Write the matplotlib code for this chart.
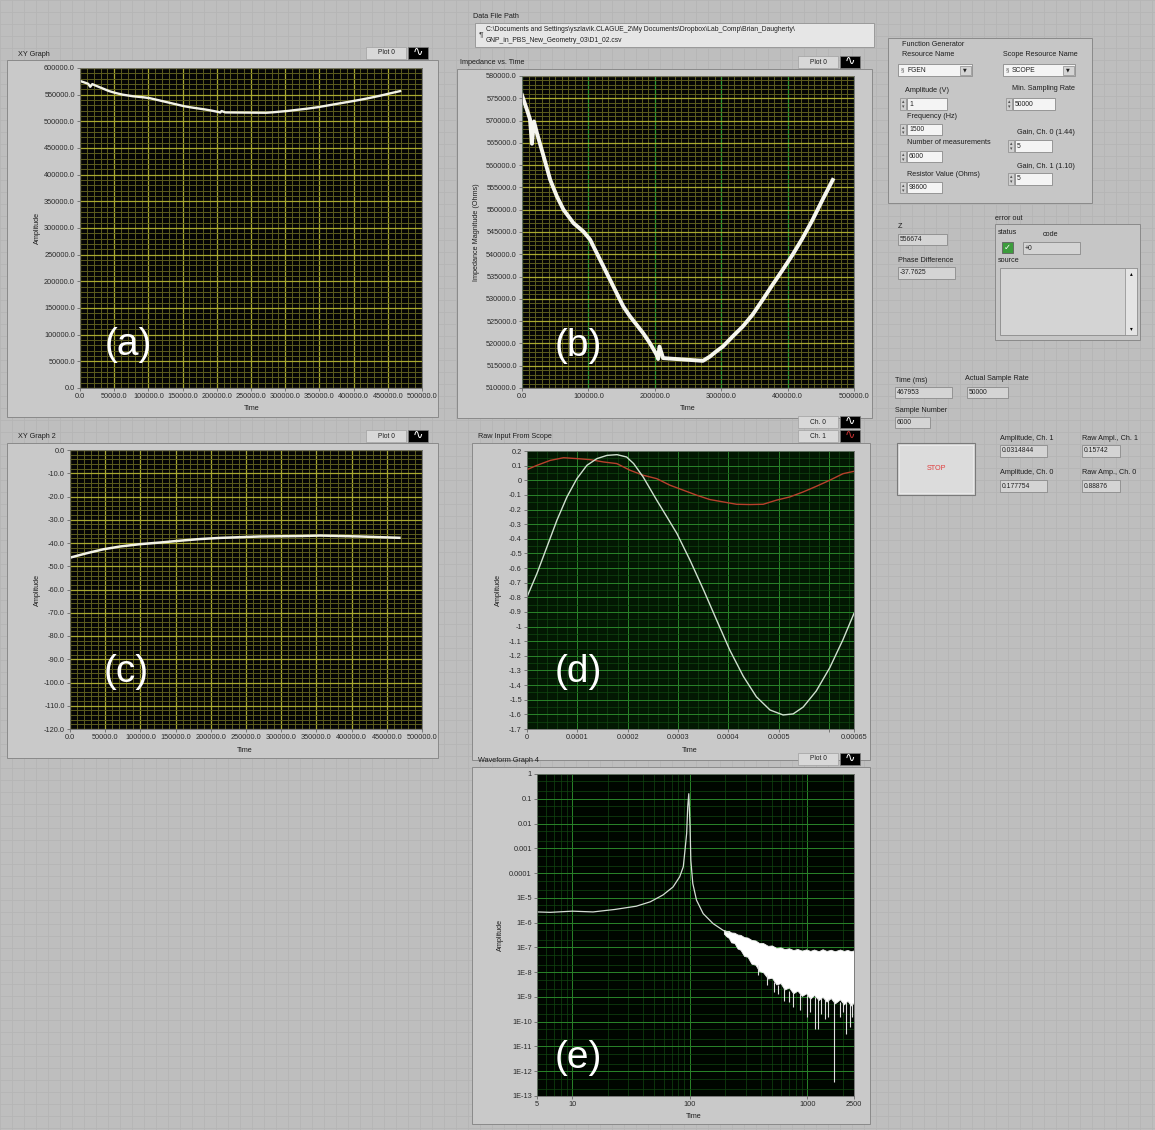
import numpy as np
import matplotlib
matplotlib.use("Agg")
import matplotlib.pyplot as plt
from matplotlib.patches import Rectangle
from matplotlib.ticker import (MultipleLocator, AutoMinorLocator, FixedLocator,
                               FixedFormatter, FuncFormatter, LogLocator, NullFormatter)

plt.rcParams["font.family"] = ["Liberation Sans", "DejaVu Sans"]

# ---- data ----
# impedance magnitude vs time (graphs a and b)
time_z = [0, 7500, 12000, 15000, 18000, 22500, 32500, 42500, 52500, 62500, 77500,
          92500, 102500, 112500, 122500, 132500, 142500, 152500, 162500, 172500,
          182500, 192500, 202500, 205000, 207000, 212500, 232500, 252500, 272500,
          282500, 292500, 302500, 317500, 332500, 347500, 362500, 377500, 392500,
          407500, 422500, 437500, 452500, 467953]
imp_z = [575700, 572400, 570300, 564800, 569800, 567200, 562000, 556700, 553000,
         550000, 547000, 545100, 543300, 540300, 537300, 534300, 531300, 528300,
         526100, 524200, 522300, 520100, 517500, 516500, 519300, 516700, 516500,
         516300, 516100, 517000, 518200, 519300, 521600, 523800, 526500, 529800,
         533200, 536500, 539900, 543600, 547700, 552200, 556674]

# phase difference vs time (graph c)
time_p = [0, 23700, 47400, 71100, 99500, 127900, 156400, 184800, 213300, 241700,
          270100, 298600, 327000, 355500, 383900, 412300, 440800, 467953]
phase_p = [-46.3, -44.4, -42.7, -41.5, -40.5, -39.8, -39.0, -38.3, -37.8, -37.5,
           -37.2, -37.1, -37.0, -36.8, -37.0, -37.2, -37.5, -37.76]

# raw scope input (graph d)
t_ch0 = [0, 0.0000198, 0.0000397, 0.0000595, 0.0000794, 0.0000992, 0.000119,
         0.000139, 0.000159, 0.000179, 0.000198, 0.000212, 0.000231, 0.000258,
         0.000278, 0.000298, 0.000324, 0.000351, 0.000377, 0.000403, 0.000430,
         0.000456, 0.000483, 0.000509, 0.000529, 0.000549, 0.000575, 0.000602,
         0.000628, 0.00065]
ch0 = [-0.797, -0.637, -0.455, -0.273, -0.114, 0.011, 0.102, 0.148, 0.170, 0.175,
       0.159, 0.114, 0.022, -0.137, -0.25, -0.364, -0.546, -0.75, -0.956, -1.16,
       -1.34, -1.48, -1.57, -1.604, -1.597, -1.55, -1.44, -1.28, -1.09, -0.91]
t_ch1 = [0, 0.0000198, 0.0000463, 0.0000727, 0.0000992, 0.0001256, 0.0001521,
         0.0001785, 0.000205, 0.0002314, 0.0002579, 0.0002843, 0.0003108,
         0.0003372, 0.0003637, 0.0003901, 0.0004166, 0.000443, 0.0004695,
         0.0004959, 0.0005224, 0.0005488, 0.0005753, 0.0006017, 0.0006282, 0.00065]
ch1 = [0.073, 0.102, 0.136, 0.154, 0.148, 0.141, 0.125, 0.114, 0.068, 0.034, 0.011,
       -0.034, -0.068, -0.102, -0.132, -0.148, -0.164, -0.166, -0.164, -0.136,
       -0.114, -0.080, -0.041, 0.0, 0.045, 0.061]

# spectrum (graph e)
freq_s = [5, 6.5, 10, 15, 23, 35, 46, 59, 72, 82, 88, 91, 94, 96, 98, 100.5, 102,
          106, 114, 130, 158, 192, 215]
amp_s = [2.7e-6, 2.6e-6, 2.9e-6, 2.7e-6, 3.4e-6, 4.6e-6, 6.9e-6, 1.3e-5, 2.75e-5,
         7.1e-5, 1.8e-4, 8.5e-4, 4.0e-3, 4.8e-2, 0.16, 7.4e-3, 3.3e-4, 3.8e-5,
         8.1e-6, 2.3e-6, 9.1e-7, 4.9e-7, 3.9e-7]
freq_band = [195, 205, 215, 225, 240, 255, 270, 290, 310, 335, 362, 390, 420, 463,
             500, 545, 593, 640, 700, 760, 825, 900, 980, 1060, 1144, 1250, 1350,
             1460, 1587, 1720, 1900, 2050, 2200, 2350, 2500]
band_hi = [5.0e-7, 4.6e-7, 4.6e-7, 4.0e-7, 3.9e-7, 3.3e-7, 3.2e-7, 2.6e-7, 2.5e-7,
           2.0e-7, 1.9e-7, 1.5e-7, 1.5e-7, 1.15e-7, 1.2e-7, 9.5e-8, 1.0e-7, 8.5e-8,
           9.2e-8, 7.8e-8, 8.6e-8, 7.4e-8, 8.3e-8, 7.2e-8, 8.2e-8, 7.0e-8, 8.4e-8,
           7.2e-8, 8.0e-8, 7.0e-8, 8.2e-8, 7.2e-8, 7.9e-8, 7.0e-8, 7.6e-8]
band_lo = [3.6e-7, 2.8e-7, 2.4e-7, 1.6e-7, 1.5e-7, 9e-8, 8e-8, 4.5e-8, 4.2e-8,
           2.2e-8, 2.0e-8, 1.1e-8, 1.0e-8, 5.5e-9, 6.0e-9, 3.2e-9, 3.6e-9, 2.0e-9,
           2.4e-9, 1.4e-9, 1.8e-9, 1.1e-9, 1.4e-9, 8.5e-10, 1.2e-9, 7.5e-10, 1.0e-9,
           6.5e-10, 9.0e-10, 5.5e-10, 8.0e-10, 5.0e-10, 7.0e-10, 4.5e-10, 6.0e-10]
spike_f = [380, 450, 520, 560, 640, 700, 760, 860, 986, 1060, 1160, 1238, 1300, 1411,
           1500, 1705, 1900, 2000, 2157, 2300, 2400]
spike_lo = [8e-9, 3e-9, 1.6e-9, 1.26e-9, 7e-10, 6.3e-10, 4e-10, 3e-10, 1.55e-10,
            2.5e-10, 5.0e-11, 5.2e-11, 2e-10, 1.26e-10, 1.5e-10, 3.6e-13, 1.6e-10,
            2.5e-10, 3.2e-11, 6.3e-11, 1.5e-10]
spike_hi = [2e-8, 8e-9, 4e-9, 3e-9, 2.2e-9, 1.8e-9, 1.6e-9, 1.3e-9, 1.2e-9, 1.0e-9,
            1.0e-9, 9e-10, 9e-10, 8e-10, 8e-10, 7e-10, 6e-10, 6e-10, 6e-10, 5.5e-10,
            5.5e-10]

# ---- panel ----
W, H = 1155, 1130
fig = plt.figure(figsize=(W / 100, H / 100), dpi=100)
fig.patch.set_facecolor("#bebebe")

bg = fig.add_axes([0, 0, 1, 1])
bg.set_xlim(0, W)
bg.set_ylim(H, 0)
bg.axis("off")
bg.vlines(np.arange(0, W, 12), 0, H, color="#b5b5b5", lw=0.6, zorder=0)
bg.hlines(np.arange(0, H, 12), 0, W, color="#b5b5b5", lw=0.6, zorder=0)


def rect(x0, y0, x1, y1, fc, ec="#8a8a8a", lw=0.7, z=1):
    bg.add_patch(Rectangle((x0, y0), x1 - x0, y1 - y0, fc=fc, ec=ec, lw=lw, zorder=z))


def lab(x, y, s, size=5.2, **kw):
    bg.text(x, y, s, fontsize=size, va="center", ha=kw.pop("ha", "left"),
            color=kw.pop("color", "#1e1e1e"), zorder=5, **kw)


def legend(x0, y0, name, wave="white"):
    rect(x0, y0, x0 + 40, y0 + 12, "#d8d8d8", "#a0a0a0", 0.5, 2)
    lab(x0 + 20, y0 + 6, name, 4.8, ha="center")
    rect(x0 + 42, y0, x0 + 62, y0 + 12, "#000000", "#808080", 0.5, 2)
    bg.text(x0 + 52, y0 + 5.5, "\u223f", fontsize=9, color=wave, ha="center",
            va="center", family="DejaVu Sans", zorder=5)


def to_fig(x0, y0, x1, y1):
    return [x0 / W, 1 - y1 / H, (x1 - x0) / W, (y1 - y0) / H]


def style(ax, face):
    ax.set_facecolor(face)
    for s in ax.spines.values():
        s.set_color("#6a6a6a")
        s.set_linewidth(0.6)
    ax.tick_params(which="both", direction="out", colors="#555555", labelcolor="#2a2a2a",
                   labelsize=5.3, width=0.5, pad=1.2)
    ax.tick_params(which="major", length=2.5)
    ax.tick_params(which="minor", length=0)
    ax.set_axisbelow(True)


fmt1 = FuncFormatter(lambda v, p: f"{v:.1f}")
YEL, YEL_MIN = "#a8a830", "#5c5c1e"
GRN, GRN_MIN = "#2a842a", "#114611"

# graph frames and titles
rect(7, 60, 438, 417, "#c9c9c9")
lab(18, 54, "XY Graph")
legend(366, 47, "Plot 0")

lab(473, 17, "Data File Path")
rect(475, 23, 874, 47, "#e6e6e6", "#9a9a9a")
bg.text(479, 35, "\u00b6", fontsize=6, va="center", color="#404040", zorder=5)
lab(486, 29.5, r"C:\Documents and Settings\yszlavik.CLAGUE_2\My Documents\Dropbox\Lab_Comp\Brian_Daugherty\ ", 4.9)
lab(486, 40, r"GNP_in_PBS_New_Geometry_03\D1_02.csv", 4.9)

rect(457, 69, 872, 418, "#c9c9c9")
lab(460, 63, "Impedance vs. Time")
legend(798, 56, "Plot 0")

rect(7, 443, 438, 758, "#c9c9c9")
lab(18, 437, "XY Graph 2")
legend(366, 430, "Plot 0")

rect(472, 443, 870, 760, "#c9c9c9")
lab(478, 437, "Raw Input From Scope")
legend(798, 416, "Ch. 0")
legend(798, 430, "Ch. 1", "#c03030")

rect(472, 767, 870, 1124, "#c9c9c9")
lab(478, 761, "Waveform Graph 4")
legend(798, 753, "Plot 0")

# (a) XY Graph
ax = fig.add_axes(to_fig(80, 68, 422, 388))
style(ax, "#050505")
ax.plot(time_z, imp_z, color="#f2f2e6", lw=1.7)
ax.set_xlim(0, 500000)
ax.set_ylim(0, 600000)
ax.xaxis.set_major_locator(MultipleLocator(50000))
ax.yaxis.set_major_locator(MultipleLocator(50000))
ax.xaxis.set_minor_locator(AutoMinorLocator(5))
ax.yaxis.set_minor_locator(AutoMinorLocator(5))
ax.xaxis.set_major_formatter(fmt1)
ax.yaxis.set_major_formatter(fmt1)
ax.grid(which="minor", color=YEL_MIN, lw=0.7)
ax.grid(which="major", color=YEL, lw=0.9)
lab(37, 228, "Amplitude", rotation=90, ha="center")
lab(252, 409, "Time", ha="center")

# (b) Impedance vs. Time
ax = fig.add_axes(to_fig(522, 76, 854, 388))
style(ax, "#050505")
ax.plot(time_z, imp_z, color="#f6f6ee", lw=2.8, solid_joinstyle="round")
ax.set_xlim(0, 500000)
ax.set_ylim(510000, 580000)
ax.xaxis.set_major_locator(MultipleLocator(100000))
ax.yaxis.set_major_locator(MultipleLocator(5000))
ax.xaxis.set_minor_locator(AutoMinorLocator(10))
ax.yaxis.set_minor_locator(AutoMinorLocator(5))
ax.xaxis.set_major_formatter(fmt1)
ax.yaxis.set_major_formatter(fmt1)
ax.grid(which="minor", color=YEL_MIN, lw=0.7)
ax.xaxis.grid(True, which="major", color="#2e9a2e", lw=0.9)
ax.yaxis.grid(True, which="major", color=YEL, lw=0.9)
lab(477, 232, "Impedance Magnitude (Ohms)", rotation=90, ha="center")
lab(688, 409, "Time", ha="center")

# (c) XY Graph 2
ax = fig.add_axes(to_fig(70, 450, 422, 729))
style(ax, "#050505")
ax.plot(time_p, phase_p, color="#f2f2e6", lw=1.8)
ax.set_xlim(0, 500000)
ax.set_ylim(-120, 0)
ax.xaxis.set_major_locator(MultipleLocator(50000))
ax.yaxis.set_major_locator(MultipleLocator(10))
ax.xaxis.set_minor_locator(AutoMinorLocator(5))
ax.yaxis.set_minor_locator(AutoMinorLocator(5))
ax.xaxis.set_major_formatter(fmt1)
ax.yaxis.set_major_formatter(fmt1)
ax.grid(which="minor", color=YEL_MIN, lw=0.7)
ax.grid(which="major", color=YEL, lw=0.9)
lab(37, 590, "Amplitude", rotation=90, ha="center")
lab(245, 750, "Time", ha="center")

# (d) Raw Input From Scope
ax = fig.add_axes(to_fig(527, 451, 854, 729))
style(ax, "#031803")
ax.plot(t_ch1, ch1, color="#b8402c", lw=1.0)
ax.plot(t_ch0, ch0, color="#cfe0cf", lw=1.0)
ax.set_xlim(0, 0.00065)
ax.set_ylim(-1.7, 0.2)
xt_d = [0, 0.0001, 0.0002, 0.0003, 0.0004, 0.0005, 0.0006, 0.00065]
ax.xaxis.set_major_locator(FixedLocator(xt_d))
ax.xaxis.set_major_formatter(FixedFormatter(["0", "0.0001", "0.0002", "0.0003",
                                             "0.0004", "0.0005", "", "0.00065"]))
ax.yaxis.set_major_locator(MultipleLocator(0.1))
ax.yaxis.set_major_formatter(FuncFormatter(lambda v, p: f"{round(v, 2) + 0.0:g}"))
ax.xaxis.set_minor_locator(MultipleLocator(0.00002))
ax.yaxis.set_minor_locator(AutoMinorLocator(2))
ax.grid(which="minor", color=GRN_MIN, lw=0.5)
ax.grid(which="major", color=GRN, lw=0.7)
lab(498, 590, "Amplitude", rotation=90, ha="center")
lab(690, 750, "Time", ha="center")

# (e) Waveform Graph 4
ax = fig.add_axes(to_fig(537, 774, 854, 1096))
style(ax, "#000600")
ax.set_xscale("log")
ax.set_yscale("log")
ax.fill_between(freq_band, band_lo, band_hi, color="white", lw=0.6, ec="#f0f0f0")
ax.vlines(spike_f, spike_lo, spike_hi, color="#e0e0e0", lw=0.8)
ax.plot(freq_s, amp_s, color="#d4ddd4", lw=0.9)
ax.set_xlim(5, 2500)
ax.set_ylim(1e-13, 1)
ax.xaxis.set_major_locator(FixedLocator([5, 10, 100, 1000, 2500]))
ax.xaxis.set_major_formatter(FixedFormatter(["5", "10", "100", "1000", "2500"]))
ax.xaxis.set_minor_locator(LogLocator(base=10, subs=np.arange(2, 10), numticks=20))
ax.xaxis.set_minor_formatter(NullFormatter())
yt_e = [10.0 ** k for k in range(-13, 1)]
ax.yaxis.set_major_locator(FixedLocator(yt_e))
ax.yaxis.set_major_formatter(FixedFormatter(
    [f"1E-{-k}" for k in range(-13, -4)] + ["0.0001", "0.001", "0.01", "0.1", "1"]))
ax.yaxis.set_minor_locator(LogLocator(base=10, subs=(2, 5), numticks=40))
ax.yaxis.set_minor_formatter(NullFormatter())
ax.grid(which="minor", color=GRN_MIN, lw=0.5)
ax.grid(which="major", color=GRN, lw=0.7)
lab(500, 935, "Amplitude", rotation=90, ha="center")
lab(694, 1117, "Time", ha="center")

# big panel letters on a transparent layer above the graphs
top = fig.add_axes([0, 0, 1, 1])
top.set_xlim(0, W)
top.set_ylim(H, 0)
top.axis("off")
top.patch.set_alpha(0)
for x, y, s in [(128, 345, "(a)"), (578, 346, "(b)"), (126, 672, "(c)"),
                (578, 672, "(d)"), (578, 1058, "(e)")]:
    top.text(x, y, s, fontsize=28, color="white", ha="center", va="center")

# ---- right hand controls ----
def numeric(x0, y0, x1, y1, s, control=True):
    if control:
        rect(x0 - 7, y0, x0 - 1, y1, "#d0d0d0", "#8a8a8a", 0.5, 2)
        bg.text(x0 - 4, y0 + (y1 - y0) * 0.3, "\u25b4", fontsize=3.5, ha="center",
                va="center", color="#505050", family="DejaVu Sans", zorder=5)
        bg.text(x0 - 4, y0 + (y1 - y0) * 0.75, "\u25be", fontsize=3.5, ha="center",
                va="center", color="#505050", family="DejaVu Sans", zorder=5)
    rect(x0, y0, x1, y1, "#f4f4f4" if control else "#d4d4d4", "#8a8a8a", 0.6, 2)
    bg.text(x0 + 2, (y0 + y1) / 2, s, fontsize=4.9, va="center", ha="left",
            color="#202020", zorder=5)


def ring(x0, y0, x1, y1, s):
    rect(x0, y0, x1, y1, "#f4f4f4", "#8a8a8a", 0.6, 2)
    bg.text(x0 + 3, (y0 + y1) / 2, "\u00a7", fontsize=4.5, va="center", color="#505050", zorder=5)
    lab(x0 + 9, (y0 + y1) / 2, s, 4.9)
    rect(x1 - 12, y0 + 1.5, x1 - 1.5, y1 - 1.5, "#d4d4d4", "#8a8a8a", 0.5, 3)
    bg.text(x1 - 6.8, (y0 + y1) / 2, "\u25bc", fontsize=3.5, ha="center", va="center",
            family="DejaVu Sans", color="#202020", zorder=5)


rect(888, 38, 1092, 203, "#c6c6c6", "#8a8a8a")
lab(902, 45, "Function Generator")
lab(902, 54, "Resource Name")
lab(1003, 54, "Scope Resource Name")
ring(898, 64, 972, 76, "FGEN")
ring(1003, 64, 1075, 76, "SCOPE")
lab(905, 90, "Amplitude (V)")
numeric(907, 98, 947, 110, "1")
lab(907, 117, "Frequency (Hz)")
numeric(907, 124, 942, 135, "1500")
lab(907, 143, "Number of measurements")
numeric(907, 151, 942, 162, "6000")
lab(907, 175, "Resistor Value (Ohms)")
numeric(907, 182, 942, 193, "98600")
lab(1012, 88, "Min. Sampling Rate")
numeric(1013, 98, 1055, 110, "50000")
lab(1017, 132, "Gain, Ch. 0 (1.44)")
numeric(1015, 140, 1052, 152, "5")
lab(1017, 167, "Gain, Ch. 1 (1.10)")
numeric(1015, 173, 1052, 185, "5")

lab(898, 227, "Z")
numeric(898, 234, 947, 245, "556674", control=False)
lab(898, 260, "Phase Difference")
numeric(898, 267, 955, 279, "-37.7625", control=False)

lab(995, 218, "error out")
rect(995, 224, 1140, 340, "#c6c6c6", "#8a8a8a")
lab(998, 232, "status")
lab(1043, 235, "code")
rect(1002, 242, 1013, 253, "#3c9c3c", "#606060", 0.6, 2)
bg.text(1007.5, 247.5, "\u2713", fontsize=6, color="white", ha="center", va="center",
        family="DejaVu Sans", zorder=5)
numeric(1023, 242, 1080, 254, "+0", control=False)
lab(998, 260, "source")
rect(1000, 268, 1137, 335, "#d4d4d4", "#8a8a8a", 0.6, 2)
rect(1125, 268, 1137, 335, "#e4e4e4", "#8a8a8a", 0.5, 3)
bg.text(1131, 274, "\u25b4", fontsize=4, ha="center", va="center", family="DejaVu Sans", zorder=5)
bg.text(1131, 329, "\u25be", fontsize=4, ha="center", va="center", family="DejaVu Sans", zorder=5)

lab(895, 380, "Time (ms)")
numeric(895, 387, 952, 398, "467953", control=False)
lab(965, 379, "Actual Sample Rate")
numeric(967, 387, 1008, 398, "50000", control=False)
lab(895, 410, "Sample Number")
numeric(895, 417, 930, 428, "6000", control=False)

rect(897, 443, 975, 495, "#d6d6d6", "#7a7a7a", 0.8, 2)
rect(899, 445, 973, 493, "#dcdcdc", "#ededed", 0.6, 3)
lab(936, 469, "STOP", 5.2, ha="center", color="#e03c3c")

lab(1000, 438, "Amplitude, Ch. 1")
numeric(1000, 445, 1047, 457, "0.0314844", control=False)
lab(1082, 438, "Raw Ampl., Ch. 1")
numeric(1082, 445, 1120, 457, "0.15742", control=False)
lab(1000, 473, "Amplitude, Ch. 0")
numeric(1000, 480, 1047, 492, "0.177754", control=False)
lab(1082, 473, "Raw Amp., Ch. 0")
numeric(1082, 480, 1120, 492, "0.88876", control=False)

fig.savefig("out.png", dpi=100, facecolor=fig.get_facecolor())
